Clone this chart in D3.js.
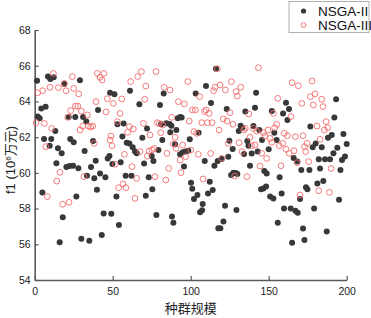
<!DOCTYPE html>
<html><head><meta charset="utf-8">
<script src="https://cdn.jsdelivr.net/npm/d3@7/dist/d3.min.js"></script>
<style>
body{margin:0;background:#fff;}
svg{display:block;}
text{font-family:"Liberation Sans","Noto Sans CJK SC",Arial,sans-serif;}
</style></head>
<body>
<script>
const xTicks=[0,50,100,150,200];
const yTicks=[54,56,58,60,62,64,66,68];
const seriesNames=["NSGA-II","NSGA-III"];
const iiX=[1.5,1.9,3.2,4.2,4.9,6.0,7.0,8.5,9.6,10.0,10.6,12.2,13.2,13.9,14.9,16.0,17.3,18.0,19.0,20.3,21.8,22.4,22.8,24.6,25.0,26.0,26.7,28.0,29.0,29.9,31.0,32.0,33.1,33.5,35.0,36.1,37.4,38.2,39.1,39.9,40.6,41.9,43.0,44.2,45.3,46.8,47.9,48.3,49.1,49.8,51.1,52.4,53.0,54.0,55.1,56.2,57.0,58.3,59.0,60.7,61.1,62.0,62.8,64.3,65.4,67.1,69.0,70.1,71.2,72.0,73.1,75.0,75.4,76.1,78.0,79.3,80.3,81.0,81.8,82.7,84.4,86.5,86.9,87.6,88.0,88.9,90.0,90.8,91.7,93.2,93.3,94.2,94.9,95.7,96.6,98.5,99.4,100.2,101.0,102.1,103.2,104.3,105.1,106.0,107.3,107.7,109.0,109.8,111.1,112.2,113.0,114.1,115.2,116.2,117.3,117.7,119.0,119.9,121.0,122.0,123.1,124.1,124.8,125.9,126.9,127.4,128.8,129.3,129.9,130.8,132.0,133.1,134.2,135.0,136.3,137.0,138.0,139.1,140.2,141.2,141.9,142.9,144.0,145.1,145.7,146.6,147.2,148.3,148.7,150.0,150.9,152.0,153.0,153.6,155.1,155.8,157.0,158.3,159.2,159.8,161.1,162.0,163.0,164.1,165.0,166.0,167.1,168.4,168.6,170.1,170.9,172.0,172.9,173.9,174.8,176.1,176.7,178.2,179.1,180.1,181.2,182.1,182.9,184.0,185.0,186.1,187.2,188.0,189.3,190.4,191.5,192.1,193.2,194.0,195.1,196.0,197.0,197.9,198.9,200.0];
const iiY=[65.16,63.15,63.06,63.6,58.9,61.9,63.7,65.39,61.52,65.26,61.9,65.35,62.34,60.54,61.38,56.12,61.1,57.51,64.98,60.33,63.13,60.39,61.9,60.4,61.71,63.13,58.67,60.26,65.18,56.31,63.13,61.22,62.87,59.84,56.2,60.33,61.78,59.7,60.68,59.06,63.52,59.97,56.52,57.73,59.75,60.8,60.94,64.49,57.71,60.5,64.4,58.67,62.72,57.08,60.59,62.03,62.77,59.84,61.69,61.65,64.6,59.84,61.43,61.19,61.1,63.84,61.97,60.53,58.72,62.49,59.75,60.94,59.08,60.66,57.64,61.28,63.8,62.72,61.84,64.45,62.78,62.74,62.27,62.64,57.55,57.21,61.6,62.4,63.06,61.04,63.13,63.1,61.15,60.36,61.19,61.24,61.88,59.45,59.11,58.53,64.44,58.76,62.25,57.8,57.9,58.26,60.66,64.86,58.85,59.5,63.91,59.04,60.4,65.83,60.66,56.9,56.9,60.78,57.27,58.16,63.58,60.9,61.8,59.88,61.33,60.0,59.99,57.92,59.93,62.34,62.64,62.53,61.06,63.43,61.78,61.52,60.4,61.09,62.62,63.65,64.49,61.19,62.4,59.08,61.84,59.13,60.1,59.23,59.97,61.32,58.67,63.46,58.57,62.25,61.84,57.21,59.75,58.85,63.33,58.01,63.93,62.96,63.58,58.01,56.09,60.83,57.88,60.63,57.77,58.53,60.16,56.89,56.24,59.19,59.08,60.16,62.59,61.43,58.01,61.65,59.41,60.76,60.25,61.43,59.54,60.76,56.71,61.97,60.76,62.12,61.1,63.1,64.12,61.41,58.5,60.16,60.72,62.18,60.91,61.62];
const iiiX=[0.9,1.9,5.1,6.2,7.1,8.1,9.8,10.9,12.0,14.1,15.2,16.2,17.9,19.0,20.1,21.2,22.0,23.1,24.1,25.0,26.1,27.6,28.2,29.1,29.9,30.8,31.6,33.8,34.4,35.9,37.2,38.2,39.3,40.2,41.9,43.2,44.4,45.7,46.6,48.3,48.9,49.6,50.4,51.7,53.0,53.8,54.7,55.8,56.6,57.5,58.5,59.6,60.7,61.5,62.4,63.2,64.3,65.4,66.0,67.5,68.4,69.7,70.5,71.2,72.2,73.3,73.9,75.2,76.5,77.1,77.8,78.6,79.9,80.8,82.1,83.1,84.0,84.8,85.9,86.8,87.8,88.9,90.0,90.6,92.1,93.2,93.8,94.9,95.9,96.8,98.1,99.1,100.0,101.1,102.1,103.0,103.8,104.9,105.8,107.1,107.9,108.8,109.8,110.7,111.8,112.8,113.7,114.7,115.6,117.1,118.2,118.8,119.9,120.9,122.2,123.3,124.1,125.2,126.1,127.1,128.2,129.1,129.9,131.0,132.1,132.9,134.0,135.0,136.1,137.2,138.0,139.1,140.2,141.2,142.3,143.4,144.4,145.5,146.6,147.6,148.7,149.6,150.9,152.0,153.0,153.8,155.1,155.8,156.8,157.9,159.0,160.0,161.1,162.0,163.2,164.3,165.0,166.2,167.1,168.2,169.0,170.1,171.2,172.0,172.9,173.7,174.6,175.6,176.7,177.8,178.6,179.7,181.0,182.1,182.9,184.0,184.8,185.7,186.8,187.8,188.9,190.0];
const iiiY=[62.81,64.49,64.6,62.77,61.47,58.67,64.79,62.49,65.57,59.54,64.77,60.03,58.24,65.01,64.6,63.11,58.35,63.48,65.39,64.73,63.74,63.74,64.42,62.4,63.46,62.62,59.79,63.24,62.62,62.57,62.62,61.65,63.99,65.57,65.35,65.2,65.57,63.41,64.15,61.84,62.06,61.52,63.89,60.48,62.87,59.17,63.33,64.14,59.38,61.04,59.17,62.27,62.59,65.11,60.35,62.46,58.57,59.69,65.39,61.19,65.67,62.77,64.12,64.86,60.94,61.22,62.12,61.28,61.37,59.79,65.67,62.81,62.77,62.25,62.68,64.79,59.6,61.09,60.25,64.64,63.11,61.62,61.99,61.37,63.99,60.72,60.01,61.56,63.86,60.91,65.11,62.9,61.28,63.52,62.31,63.52,62.21,61.04,64.27,62.81,59.66,63.43,63.52,62.81,63.33,61.09,62.81,64.6,64.79,65.83,62.4,64.92,60.81,63.02,64.64,62.9,61.65,63.37,65.11,62.72,59.82,64.55,64.3,61.69,64.79,61.19,62.4,62.49,59.79,63.3,61.99,61.52,62.49,61.56,62.34,65.89,60.38,61.09,62.25,62.06,60.81,62.4,61.93,61.71,63.33,62.53,62.72,64.17,61.52,60.4,61.65,62.21,61.32,62.08,61.09,63.15,65.05,61.24,62.03,60.57,64.88,58.76,63.89,62.08,61.47,61.19,61.65,60.63,64.27,65.14,63.8,64.42,62.62,59.0,61.88,64.12,63.71,62.4,62.87,62.53,58.91,60.25];

const W=371,H=318;
const svg=d3.select("body").append("svg").attr("width",W).attr("height",H);
const x=d3.scaleLinear().domain([0,200]).range([34.7,346.7]);
const y=d3.scaleLinear().domain([54,68]).range([280,30]);
const axisColor="#5a5a5a";

const gx=svg.append("g").attr("transform","translate(0,280)")
  .call(d3.axisBottom(x).tickValues(xTicks).tickSizeInner(-4).tickSizeOuter(0).tickPadding(8));
const gy=svg.append("g").attr("transform","translate(34.7,0)")
  .call(d3.axisLeft(y).tickValues(yTicks).tickSizeInner(-4).tickSizeOuter(0).tickPadding(4));
[gx,gy].forEach(g=>{
  g.select(".domain").attr("stroke",axisColor).attr("stroke-width",1.6);
  g.selectAll(".tick line").attr("stroke",axisColor).attr("stroke-width",1.2);
  g.selectAll(".tick text").attr("fill","#222").style("font-size","10.5px").style("font-family","'Liberation Sans',Arial,sans-serif");
});

const pts2=iiX.map((v,i)=>({x:v,y:iiY[i]}));
const pts3=iiiX.map((v,i)=>({x:v,y:iiiY[i]}));
svg.append("g").selectAll("circle").data(pts2).join("circle")
  .attr("cx",d=>x(d.x)).attr("cy",d=>y(d.y)).attr("r",3).attr("fill","#383838");
svg.append("g").selectAll("circle").data(pts3).join("circle")
  .attr("cx",d=>x(d.x)).attr("cy",d=>y(d.y)).attr("r",2.9).attr("fill","none")
  .attr("stroke","#f36b6b").attr("stroke-width",0.9);

// axis titles
svg.append("text").attr("x",190.7).attr("y",313).attr("text-anchor","middle")
  .style("font-size","13px").style("font-family","'Noto Sans CJK SC',sans-serif").attr("fill","#222").text("种群规模");
const yt=svg.append("text").attr("transform","translate(15,160) rotate(-90)").attr("text-anchor","middle")
  .style("font-size","13px").attr("fill","#222");
yt.append("tspan").style("font-family","'Liberation Sans',Arial,sans-serif").text("f1 (10");
yt.append("tspan").attr("dy",-4.5).style("font-size","8px").style("font-family","'Liberation Sans',Arial,sans-serif").text("6");
yt.append("tspan").attr("dy",4.5).style("font-family","'Noto Sans CJK SC',sans-serif").text("万元");
yt.append("tspan").style("font-family","'Liberation Sans',Arial,sans-serif").text(")");

// legend
const lg=svg.append("g");
lg.append("rect").attr("x",289).attr("y",1.5).attr("width",80).attr("height",31)
  .attr("fill","#fff").attr("stroke","#b0b0b0").attr("stroke-width",1);
const ly=[11,25];
lg.append("circle").attr("cx",303.5).attr("cy",ly[0]).attr("r",2.6).attr("fill","#383838");
lg.append("circle").attr("cx",303.5).attr("cy",ly[1]).attr("r",2.4).attr("fill","none").attr("stroke","#f36b6b").attr("stroke-width",0.9);
seriesNames.forEach((n,i)=>{
  lg.append("text").attr("x",318).attr("y",ly[i]+5).style("font-size","13.5px")
    .style("font-family","'Liberation Sans Narrow','Liberation Sans',Arial,sans-serif").attr("fill","#111").text(n);
});
</script>
</body></html>
